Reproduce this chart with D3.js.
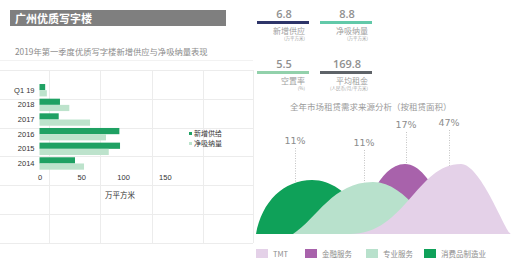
<!DOCTYPE html>
<html><head><meta charset="utf-8">
<script src="https://cdn.jsdelivr.net/npm/d3@7"></script>
<style>
html,body{margin:0;padding:0;background:#fff;}
svg{display:block;font-family:"Noto Sans CJK SC","Noto Sans",sans-serif;}
</style></head><body>
<svg id="c" width="515" height="264"></svg>
<script>
// ---- data ----
const title = "广州优质写字楼";
const subTitle = "2019年第一季度优质写字楼新增供应与净吸纳量表现";
const years = ["Q1 19","2018","2017","2016","2015","2014"];
const newSupply = [6.8, 24.5, 23, 95.6, 96.4, 42.5];
const netAbsorption = [8.8, 35.7, 60.5, 79.6, 82.9, 53.3];
const xTicks = [0, 50, 100, 150];
const seriesNames = ["新增供给","净吸纳量"];
const xAxisTitle = "万平方米";

const kpiValues = ["6.8","8.8","5.5","169.8"];
const kpiLabels = ["新增供应","净吸纳量","空置率","平均租金"];
const kpiUnits = ["(万平方米)","(万平方米)","(%)","(人民币/月/平方米)"];

const demandTitle = "全年市场租赁需求来源分析（按租赁面积）";
const demandCats = ["TMT","金融服务","专业服务","消费品制造业"];
const demandShare = [47, 17, 11, 11];

// ---- drawing ----
const svg = d3.select("#c");

// background grid (spreadsheet look)
const gridG = svg.append("g").attr("stroke","#ececec").attr("stroke-width",1);
d3.range(0,7).forEach(i=>{
  const y = 70 + i*28.8;
  gridG.append("line").attr("x1",0).attr("x2",253).attr("y1",Math.round(y)+0.5).attr("y2",Math.round(y)+0.5);
});
[49,100,152,203,253].forEach(x=>{
  gridG.append("line").attr("x1",x+0.5).attr("x2",x+0.5).attr("y1",70).attr("y2",243);
});
svg.append("line").attr("x1",0).attr("x2",253).attr("y1",60.5).attr("y2",60.5).attr("stroke","#f2f2f2");

// header
svg.append("rect").attr("x",10).attr("y",10).attr("width",216).attr("height",16).attr("fill","#7f7f7f");
svg.append("text").attr("x",15).attr("y",22.5).attr("fill","#fff").attr("font-size",11).attr("font-weight","bold").text(title);
svg.append("text").attr("x",15).attr("y",55).attr("fill","#8a8a8a").attr("font-size",8.3).text(subTitle);

// bar chart
const x = d3.scaleLinear().domain([0,150]).range([39.5,164.8]);
const y = d3.scaleBand().domain(years).range([82.9,170.8]).paddingInner(0.154).paddingOuter(0.077);
const sub = d3.scaleBand().domain([0,1]).range([0,y.bandwidth()]);
const barColors = ["#1fa163","#bde3cc"];
const bars = svg.append("g");
[newSupply, netAbsorption].forEach((vals,si)=>{
  bars.selectAll(null).data(years).enter().append("rect")
    .attr("x",x(0)).attr("y",d=>y(d)+sub(si))
    .attr("width",(d,i)=>x(vals[i])-x(0)).attr("height",sub.bandwidth())
    .attr("fill",barColors[si]);
});
const yAx = svg.append("g").attr("transform",`translate(${x(0)-2},0)`)
  .call(d3.axisLeft(y).tickSize(0).tickPadding(3));
yAx.select(".domain").remove();
yAx.selectAll("text").attr("font-size",7.5).attr("fill","#333").attr("font-family","'Liberation Sans',Arial,sans-serif");
const xAx = svg.append("g").attr("transform",`translate(0,172)`)
  .call(d3.axisBottom(x).tickValues(xTicks).tickSize(0).tickPadding(3));
xAx.select(".domain").remove();
xAx.selectAll("text").attr("font-size",7.5).attr("fill","#333").attr("font-family","'Liberation Sans',Arial,sans-serif");
svg.append("text").attr("x",120).attr("y",198).attr("text-anchor","middle").attr("font-size",7.5).attr("fill","#333").text(xAxisTitle);
// legend
seriesNames.forEach((n,i)=>{
  svg.append("rect").attr("x",189).attr("y",132+i*10).attr("width",3).attr("height",3).attr("fill",barColors[i]);
  svg.append("text").attr("x",194).attr("y",136+i*10).attr("font-size",7).attr("fill","#333").text(n);
});

// KPIs
const kpiColors = ["#2e3569","#62c9a9","#92d1ab","#5e6368"];
const kpiPos = [[257,0],[320,0],[257,50],[320,50]];
kpiValues.forEach((v,i)=>{
  const [kx,ky] = kpiPos[i];
  svg.append("text").attr("x",kx+27).attr("y",ky+18).attr("text-anchor","middle").attr("font-size",11).attr("font-weight",600).attr("fill","#909090").attr("font-family","'Open Sans','DejaVu Sans',sans-serif").text(v);
  svg.append("rect").attr("x",kx).attr("y",ky+21).attr("width",52).attr("height",3).attr("fill",kpiColors[i]);
  svg.append("text").attr("x",kx+48).attr("y",ky+34).attr("text-anchor","end").attr("font-size",8).attr("fill","#a0a0a0").text(kpiLabels[i]);
  svg.append("text").attr("x",kx+48).attr("y",ky+40).attr("text-anchor","end").attr("font-size",4.5).attr("fill","#a0a0a0").text(kpiUnits[i]);
});

// demand mountains
svg.append("text").attr("x",290).attr("y",110).attr("font-size",8.5).attr("fill","#9a9a9a").text(demandTitle);
const base = 234;
const mColors = {"TMT":"#e4d1e8","金融服务":"#a862ab","专业服务":"#b8e1cc","消费品制造业":"#0fa159"};
// shape geometry per category: foot-left, peak x, foot-right, peak y, control factors
const geom = {
  "消费品制造业": {x0:256,px:312,x1:398,py:180,a1:0.1,e1:0.6,a2:0.5,a3:0.45,a4:0.3,lx:295},
  "金融服务":     {x0:350,px:405,x1:462,py:164,a1:0.3,e1:0.3,a2:0.5,a3:0.5,a4:0.2,lx:406},
  "专业服务":     {x0:293,px:373,x1:452,py:182,a1:0.3,e1:0.3,a2:0.5,a3:0.45,a4:0.3,lx:364},
  "TMT":          {x0:350,px:461,x1:511,py:164,a1:0.5,e1:0,a2:0.4,a3:0.4,a4:0.1,lx:449}
};
function ctrl(g){
  const dl=g.px-g.x0, dr=g.x1-g.px, h=base-g.py;
  return [
    [[g.x0,base],[g.x0+g.a1*dl,base-g.e1*h],[g.px-g.a2*dl,g.py],[g.px,g.py]],
    [[g.px,g.py],[g.px+g.a3*dr,g.py],[g.x1-g.a4*dr,base],[g.x1,base]]
  ];
}
function bez(p,t){
  const u=1-t;
  return [u*u*u*p[0][0]+3*u*u*t*p[1][0]+3*u*t*t*p[2][0]+t*t*t*p[3][0],
          u*u*u*p[0][1]+3*u*u*t*p[1][1]+3*u*t*t*p[2][1]+t*t*t*p[3][1]];
}
function yAt(g,xv){
  const segs=ctrl(g); const seg = xv<=g.px?segs[0]:segs[1];
  let lo=0,hi=1;
  for(let k=0;k<40;k++){const m=(lo+hi)/2; if(bez(seg,m)[0]<xv) lo=m; else hi=m;}
  return bez(seg,(lo+hi)/2)[1];
}
const drawOrder = ["金融服务","消费品制造业","专业服务","TMT"];
const mg = svg.append("g");
drawOrder.forEach(c=>{
  const g=geom[c]; const [L,R]=ctrl(g);
  const p=d3.path();
  p.moveTo(L[0][0],L[0][1]);
  p.bezierCurveTo(L[1][0],L[1][1],L[2][0],L[2][1],L[3][0],L[3][1]);
  p.bezierCurveTo(R[1][0],R[1][1],R[2][0],R[2][1],R[3][0],R[3][1]);
  p.closePath();
  mg.append("path").attr("d",p.toString()).attr("fill",mColors[c]);
});
// labels
const labTop = {"TMT":130,"金融服务":132,"专业服务":150,"消费品制造业":148};
demandCats.forEach((c,i)=>{
  const g=geom[c];
  svg.append("line").attr("x1",g.lx+0.5).attr("x2",g.lx+0.5).attr("y1",labTop[c]).attr("y2",yAt(g,g.lx))
    .attr("stroke","#aaa").attr("stroke-width",0.7).attr("stroke-dasharray","1,1.5");
  svg.append("text").attr("x",g.lx).attr("y",labTop[c]-4).attr("text-anchor","middle").attr("font-size",9.5)
    .attr("fill","#8c8c8c").attr("font-family","'DejaVu Sans',sans-serif").text(demandShare[i]+"%");
});
// legend
const legX = [256,305,366,424];
demandCats.forEach((c,i)=>{
  svg.append("rect").attr("x",legX[i]).attr("y",249).attr("width",12).attr("height",9).attr("fill",mColors[c]);
  svg.append("text").attr("x",legX[i]+17).attr("y",256.5).attr("font-size",7.5).attr("fill","#8c8c8c").text(c);
});
</script></body></html>
